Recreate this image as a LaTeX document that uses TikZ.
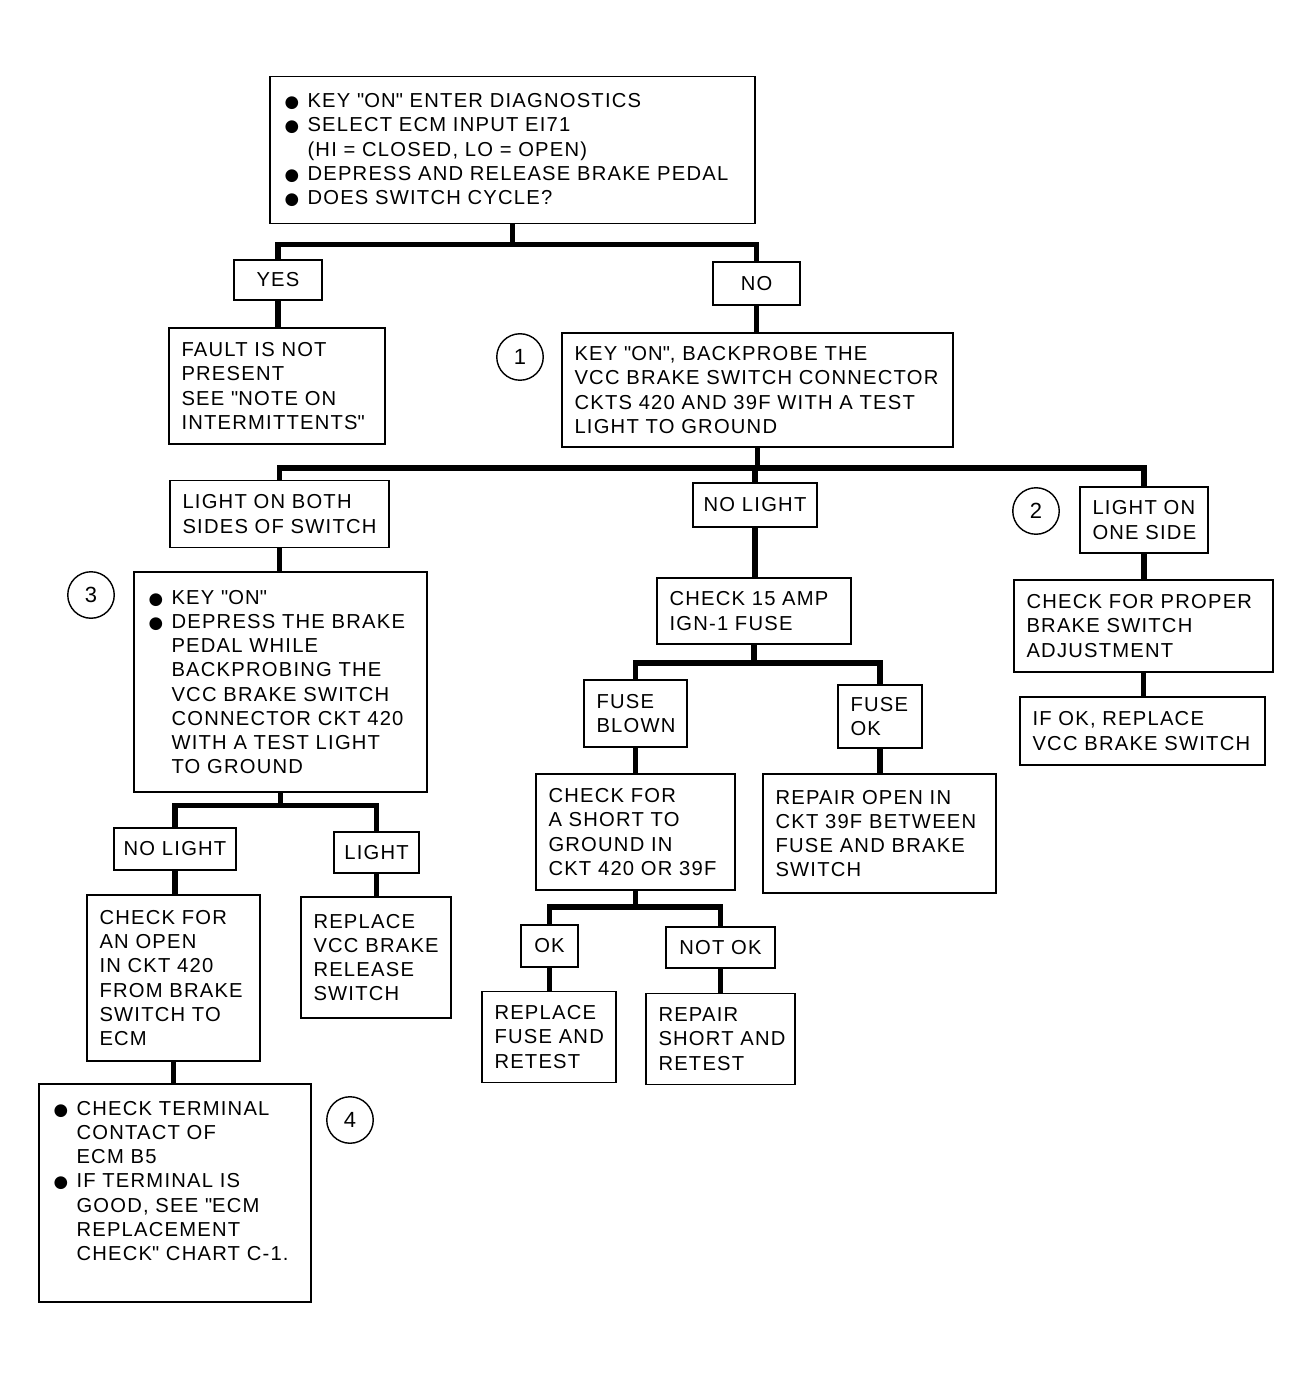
\documentclass[tikz,border=0pt]{standalone}
\usepackage{fontspec}
\setmainfont{Liberation Sans}[LetterSpace=6]
\newfontfamily\symfont{DejaVu Sans}
\newcommand\bul{\makebox[0.50cm][l]{\hspace{0.04cm}\raisebox{0pt}{\symfont\fontsize{9.5}{9.5}\selectfont ●}}}
\newcommand\ind{\hspace*{0.50cm}}
\newcommand\q{\textquotedbl}
\begin{document}
\begin{tikzpicture}[x=0.02cm,y=-0.02cm,
  box/.style={draw,line width=1pt,inner xsep=0.25cm,inner ysep=0pt,align=left,font=\fontsize{11.5}{13.8}\selectfont},
  tag/.style={draw,line width=1pt,inner sep=0pt,align=center,font=\fontsize{11.5}{13.8}\selectfont},
  num/.style={draw,circle,line width=0.8pt,minimum size=0.93cm,inner sep=0pt,font=\fontsize{12.5}{14}\selectfont},
  link/.style={line width=3pt}]
\useasboundingbox (0,0) rectangle (1312,1381);
\node[box,text width=9.20cm,minimum height=2.94cm] (diag) at (512.5,150) {\bul KEY \q ON\q{} ENTER DIAGNOSTICS\\ \bul SELECT ECM INPUT EI71\\ \ind (HI = CLOSED, LO = OPEN)\\ \bul DEPRESS AND RELEASE BRAKE PEDAL\\ \bul DOES SWITCH CYCLE?};
\node[tag,minimum width=1.76cm,minimum height=0.80cm] (yes) at (278,280) {YES};
\node[tag,minimum width=1.74cm,minimum height=0.86cm] (no) at (756.5,283.5) {NO};
\node[box,text width=3.82cm,minimum height=2.32cm] (fault) at (277,386) {FAULT IS NOT\\ PRESENT\\ SEE \q NOTE ON\\ INTERMITTENTS\q};
\node[box,text width=7.32cm,minimum height=2.28cm] (probe) at (757.5,390) {KEY \q ON\q, BACKPROBE THE\\ VCC~BRAKE~SWITCH~CONNECTOR\\ CKTS 420 AND 39F WITH A TEST\\ LIGHT TO GROUND};
\node[num] (n1) at (520,357) {1};
\node[box,text width=3.88cm,minimum height=1.34cm] (both) at (279.5,514) {LIGHT~ON~BOTH\\ SIDES~OF~SWITCH};
\node[tag,minimum width=2.48cm,minimum height=0.88cm] (nolight) at (755,505) {NO LIGHT};
\node[num] (n2) at (1036,511) {2};
\node[box,text width=2.06cm,minimum height=1.32cm] (oneside) at (1144,520) {LIGHT~ON\\ ONE~SIDE};
\node[box,text width=5.36cm,minimum height=4.40cm] (depress) at (280.5,682) {\bul KEY \q ON\q\\ \bul DEPRESS~THE~BRAKE\\ \ind PEDAL WHILE\\ \ind BACKPROBING THE\\ \ind VCC BRAKE SWITCH\\ \ind CONNECTOR~CKT~420\\ \ind WITH A TEST LIGHT\\ \ind TO GROUND};
\node[num] (n3) at (91,595) {3};
\node[box,text width=3.38cm,minimum height=1.32cm] (fuse15) at (754,611) {CHECK~15~AMP\\ IGN-1 FUSE};
\node[box,text width=4.68cm,minimum height=1.84cm] (adjust) at (1143.5,626) {CHECK~FOR~PROPER\\ BRAKE SWITCH\\ ADJUSTMENT};
\node[box,text width=4.40cm,minimum height=1.36cm] (replsw) at (1142.5,731) {IF OK, REPLACE\\ VCC~BRAKE~SWITCH};
\node[box,text width=1.56cm,minimum height=1.34cm] (blown) at (635.5,713.5) {FUSE\\ BLOWN};
\node[box,text width=1.18cm,minimum height=1.26cm] (fuseok) at (880,716.5) {FUSE\\ OK};
\node[box,text width=3.48cm,minimum height=2.32cm] (short) at (635.5,832) {CHECK FOR\\ A SHORT TO\\ GROUND IN\\ CKT~420~OR~39F};
\node[box,text width=4.16cm,minimum height=2.38cm] (openckt) at (879.5,833.5) {REPAIR OPEN IN\\ CKT~39F~BETWEEN\\ FUSE~AND~BRAKE\\ SWITCH};
\node[tag,minimum width=2.44cm,minimum height=0.84cm] (nolt) at (175,849) {NO LIGHT};
\node[tag,minimum width=1.70cm,minimum height=0.82cm] (lt) at (376.5,852.5) {LIGHT};
\node[tag,minimum width=1.14cm,minimum height=0.84cm] (ok) at (549.5,946) {OK};
\node[tag,minimum width=2.18cm,minimum height=0.82cm] (notok) at (720.5,947.5) {NOT OK};
\node[box,text width=2.96cm,minimum height=3.32cm] (open420) at (173.5,978) {CHECK FOR\\ AN OPEN\\ IN CKT 420\\ FROM~BRAKE\\ SWITCH~TO\\ ECM};
\node[box,text width=2.50cm,minimum height=2.42cm] (relsw) at (376,957.5) {REPLACE\\ VCC~BRAKE\\ RELEASE\\ SWITCH};
\node[box,text width=2.18cm,minimum height=1.82cm] (replfuse) at (549,1037) {REPLACE\\ FUSE~AND\\ RETEST};
\node[box,text width=2.48cm,minimum height=1.82cm] (repshort) at (720.5,1039) {REPAIR\\ SHORT~AND\\ RETEST};
\node[box,text width=4.94cm,minimum height=4.36cm] (terminal) at (175,1193) {\bul CHECK~TERMINAL\\ \ind CONTACT OF\\ \ind ECM B5\\ \bul IF TERMINAL IS\\ \ind GOOD, SEE \q ECM\\ \ind REPLACEMENT\\ \ind CHECK\q{}~CHART~C-1.\\ \mbox{}};
\node[num] (n4) at (350,1120) {4};
\draw[link] (diag.south) -- ++(0,20) coordinate (j1);
\draw[link] (yes.north) |- (j1) -| (no.north);
\draw[link] (yes.south) -- (yes.south |- fault.north);
\draw[link] (no.south) -- (no.south |- probe.north);
\draw[link] (probe.south) -- ++(0,20) coordinate (j2);
\draw[link] (both.north) |- (j2) -| (oneside.north);
\draw[link] (nolight.north |- j2) -- (nolight.north);
\draw[link] (both.south) -- (both.south |- depress.north);
\draw[link] (nolight.south) -- (nolight.south |- fuse15.north);
\draw[link] (oneside.south) -- (oneside.south |- adjust.north);
\draw[link] (adjust.south) -- (adjust.south |- replsw.north);
\draw[link] (depress.south) -- ++(0,13) coordinate (j3);
\draw[link] (nolt.north) |- (j3) -| (lt.north);
\draw[link] (fuse15.south) -- ++(0,18) coordinate (j4);
\draw[link] (blown.north) |- (j4) -| (fuseok.north);
\draw[link] (blown.south) -- (blown.south |- short.north);
\draw[link] (fuseok.south) -- (fuseok.south |- openckt.north);
\draw[link] (short.south) -- ++(0,16) coordinate (j5);
\draw[link] (ok.north) |- (j5) -| (notok.north);
\draw[link] (ok.south) -- (ok.south |- replfuse.north);
\draw[link] (notok.south) -- (notok.south |- repshort.north);
\draw[link] (nolt.south) -- (nolt.south |- open420.north);
\draw[link] (lt.south) -- (lt.south |- relsw.north);
\draw[link] (open420.south) -- (open420.south |- terminal.north);
\end{tikzpicture}
\end{document}
